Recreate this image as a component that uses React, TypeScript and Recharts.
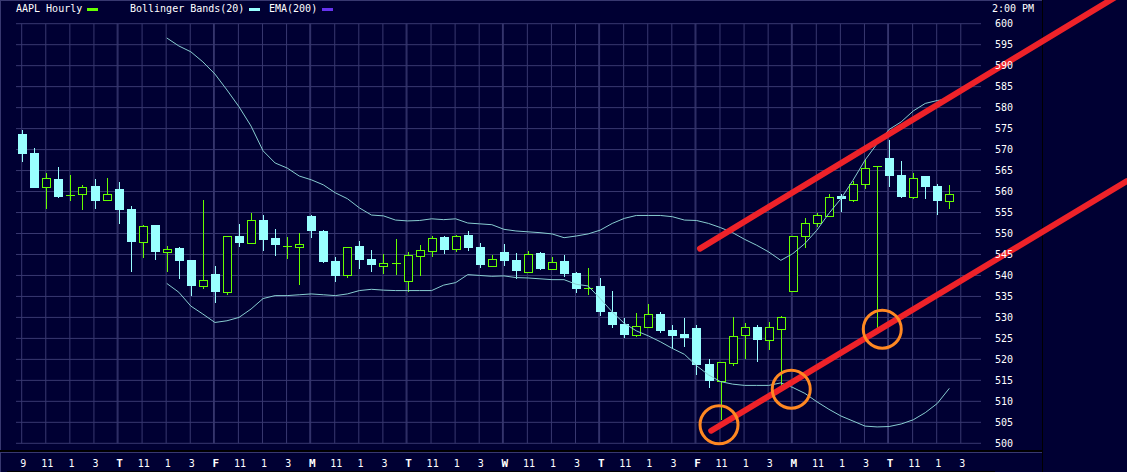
import React from "react";
import {
  ComposedChart, Bar, Line, XAxis, YAxis, CartesianGrid, ReferenceLine, ReferenceDot,
} from "recharts";

// Candle values, one entry per hourly bar
const opens = [573.7,569.2,561,563,559.1,559.3,561.3,558.1,560.6,555.8,548,552,545.6,546.5,543.7,537.5,540.3,536.1,549.4,547.8,553.2,548.9,547.1,546.8,554.1,550.6,543.4,540.2,547,543.9,542.3,542.9,538.7,544.7,545.8,549.1,546.3,549.6,546.7,542.3,545.6,543.7,540.9,545.3,541.6,543.4,540.6,536.9,537.5,531.3,528.4,525.9,527.8,530.8,527,526,527.5,518.9,514.9,519.2,525.9,527.6,524.7,527.3,536.3,549.4,552.5,554.2,558.9,558,561.7,566.2,567.9,563.9,558.7,563.7,561.3,557.8];
const closes = [569,560.9,563.2,558.7,559.1,561,557.8,559.4,555.6,547.9,551.7,545.6,546.4,543.4,537.5,539,536,549.4,547.7,553.1,548.4,547.2,547.1,547.4,550.6,543.2,539.8,546.9,543.7,542.5,542.9,542.9,544.8,546,549,546,549.5,546.5,542.5,544,543.4,541,545,541.5,543.1,540.3,536.7,536.9,531.3,528.2,525.8,527.9,530.7,526.7,525.6,525.1,518.7,514.8,519.3,525.5,527.6,524.6,527.6,530,549.3,552.6,554.3,558.8,558.2,561.9,565.7,566.2,563.7,558.7,563.3,561,557.7,559.5];
const highs = [574.7,570.4,564.4,565.8,564,561.6,563,563.3,562.3,556.5,552,552,547,546.7,543.7,558,542.2,549.4,552.2,554.8,554.4,551,549.1,550.1,554.4,550.8,544.4,546.9,548.2,546,545.1,548.7,545.5,547.2,549.4,549.4,549.6,550.6,547.7,544.8,547.5,545.3,545.8,545.6,544.4,544.8,540.8,541.7,539.4,536.3,529.8,531,533.2,531.3,528.2,529.8,528.2,520.1,519.3,530,528.6,528.2,528.9,530.3,549.3,553.6,555,559.5,559.4,562.5,567.5,566.2,572.2,567.2,564.3,563.8,561.7,561.5];
const lows = [567.1,560.9,555.9,558.5,557.8,555.6,555.9,557.8,552.3,540.8,544.1,543.7,540.8,539.1,535.1,536.7,533.4,535.3,546.7,547.5,545.8,544.6,543.9,537.7,548.9,542.9,538.4,539.4,541.5,540.8,540.3,540.1,536.1,539.8,544.4,545.1,545.6,545.8,541.7,542.3,542.2,539.1,540.6,541.3,541.3,539.6,535.8,535.3,530.3,527.5,525.1,525.3,527.8,526.3,522.5,522.9,516.3,513.2,505.6,518.5,520,519.4,522.2,513.7,536.1,546.6,551.6,554.2,555.1,557.5,560.6,527.4,561,558.4,558.2,558.2,554.4,555.8];

// Bollinger bands start at bar 12
const upperBandStart = 12;
const upperBand = [596.6,594.7,593.3,590.9,588,584.2,580.2,575.6,569.7,566.8,565.6,563.7,562.8,561.6,559.7,558.3,556.1,554.4,554.2,553.2,553,553.1,553.5,553.3,553.5,552.5,552.3,552.1,551,550.6,550.4,550.2,549.9,549,549.4,549.9,550.8,552.4,553.6,554.3,554.3,554.3,554,553.2,553.1,552.4,551.4,550.2,548.6,547.2,545.6,543.6,545.2,547.6,550.8,554.8,558.3,562.7,567.5,571.4,574.8,576.6,579.2,581,581.7,582.1];
const lowerBand = [538.1,536,532.7,530.8,528.8,529.2,530,532,534.5,535.2,535.2,535.4,535.6,535.4,535.2,535.6,536.4,536.7,536.5,536.4,536.4,536.4,536.4,537.7,538.3,540.2,540,539.8,539.9,539.5,539.4,539.2,539,539,537.9,537.5,534.5,531.3,528.6,526.8,525.6,524.2,522.6,521.2,518.5,516.3,514.7,514.1,513.8,513.8,513.8,514.4,513.3,511.9,509.9,508.1,506.5,505.3,504.1,503.9,504,504.6,505.6,507.3,509.5,513.1];

// Axis labels: one label every 2 bars
const xLabels = ["9","11","1","3","T","11","1","3","F","11","1","3","M","11","1","3","T","11","1","3","W","11","1","3","T","11","1","3","F","11","1","3","M","11","1","3","T","11","1","3"];
const xTicks = xLabels.map((_, i) => i * 2);
const yTicks = [500,505,510,515,520,525,530,535,540,545,550,555,560,565,570,575,580,585,590,595,600];
const daySeparators = [7.88,15.88,23.88,31.88,39.88,47.88,55.88,63.88,71.88];

// Trend lines and the circles drawn by hand over the chart
const lowerTrend = [{ x: 57.22, y: 503 }, { x: 91.75, y: 562.5 }];
const upperTrend = [{ x: 56.29, y: 546.4 }, { x: 91.75, y: 608 }];
const circles = [{ x: 57.87, y: 504.4 }, { x: 63.87, y: 512.9 }, { x: 71.43, y: 527.2 }];

const rows = opens.map((open, i) => ({
  i,
  open,
  close: closes[i],
  high: highs[i],
  low: lows[i],
  upper: i >= upperBandStart ? upperBand[i - upperBandStart] : null,
  lower: i >= upperBandStart ? lowerBand[i - upperBandStart] : null,
}));

const BG = "#000033";
const GRID = "#383870";
const UP = "#66FF00";
const DOWN = "#99FFFF";
const BAND = "#88CCD0";
const MONO = "'DejaVu Sans Mono', monospace";

function Candle(props: any) {
  const { x, y, width, height, payload } = props;
  const k = height / (payload.high - payload.low);
  const py = (v: number) => y + (payload.high - v) * k;
  const cx = Math.floor(x + width / 2) + 0.5;
  const isUp = payload.close >= payload.open;
  const color = isUp ? UP : DOWN;
  const top = py(Math.max(payload.open, payload.close));
  const bot = py(Math.min(payload.open, payload.close));
  const t = Math.round(top);
  const b = Math.round(bot);
  return (
    <g shapeRendering="crispEdges">
      <line x1={cx} x2={cx} y1={y} y2={y + height} stroke={color} strokeWidth={1} />
      {b - t < 1 ? (
        <line x1={cx - 4.5} x2={cx + 4.5} y1={t + 0.5} y2={t + 0.5} stroke={color} strokeWidth={1} />
      ) : isUp ? (
        <rect x={cx - 4} y={t + 0.5} width={8} height={b - t} fill={BG} stroke={color} strokeWidth={1} />
      ) : (
        <rect x={cx - 4.5} y={t} width={9} height={b - t} fill={color} />
      )}
    </g>
  );
}

function XTick(props: any) {
  const { x, payload, index } = props;
  const label = xLabels[index] ?? String(payload.value);
  const bold = /[A-Z]/.test(label);
  return (
    <text x={x + 1} y={467} textAnchor="middle" fill="#FFFFFF" fontFamily={MONO} fontSize={bold ? 11 : 10} fontWeight={bold ? 700 : 400}>
      {label}
    </text>
  );
}

function YTick(props: any) {
  const { y, payload } = props;
  return (
    <text x={995} y={y + 3.5} textAnchor="start" fill="#FFFFFF" fontFamily={MONO} fontSize={10}>
      {payload.value}
    </text>
  );
}

const strip = (left: number, top: number, width: number, height: number, background: string) => (
  <div style={{ position: "absolute", left, top, width, height, background }} />
);

const label = (left: number, text: string) => (
  <span style={{ position: "absolute", left, top: 3, fontFamily: MONO, fontSize: 10, lineHeight: "12px", color: "#FFFFFF", whiteSpace: "pre" }}>
    {text}
  </span>
);

export default function App() {
  return (
    <div style={{ position: "absolute", left: 0, top: 0, width: 1127, height: 472, background: BG, overflow: "hidden" }}>
      {strip(0, 0, 1042, 1, GRID)}
      {strip(0, 1, 1, 449, GRID)}
      {strip(0, 453, 1, 19, GRID)}
      {strip(0, 450, 1042, 2, "#000000")}
      {strip(0, 452, 1042, 1, GRID)}
      {strip(7, 471, 988, 1, "#000000")}
      {strip(1042, 0, 1, 472, "#000000")}
      {label(16, "AAPL Hourly")}
      {strip(87, 8, 11, 3, UP)}
      {label(130, "Bollinger Bands(20)")}
      {strip(249, 8, 11, 3, DOWN)}
      {label(269, "EMA(200)")}
      {strip(322, 8, 11, 3, "#6633EE")}
      {label(992, "2:00 PM")}
      <div style={{ position: "absolute", left: 0, top: 0 }}>
        <ComposedChart
          width={1127}
          height={472}
          data={rows}
          margin={{ left: 16, top: 23.7, right: 0, bottom: 0 }}
          style={{ overflow: "visible" }}
        >
          <CartesianGrid
            stroke={GRID}
            strokeWidth={1}
            horizontalValues={yTicks}
            verticalValues={[...xTicks.map((v) => v - 0.05), ...daySeparators]}
          />
          <XAxis
            type="number"
            dataKey="i"
            domain={[-0.523, 79.63]}
            ticks={xTicks}
            interval={0}
            height={28.7}
            axisLine={false}
            tickLine={false}
            tick={<XTick />}
          />
          <YAxis
            type="number"
            orientation="right"
            domain={[500, 600]}
            ticks={yTicks}
            interval={0}
            width={146}
            axisLine={false}
            tickLine={false}
            tick={<YTick />}
          />
          <Line dataKey="upper" type="linear" stroke={BAND} strokeWidth={1} dot={false} activeDot={false} isAnimationActive={false} />
          <Line dataKey="lower" type="linear" stroke={BAND} strokeWidth={1} dot={false} activeDot={false} isAnimationActive={false} />
          <Bar dataKey={(d: any) => [d.low, d.high]} barSize={9} shape={<Candle />} isAnimationActive={false} />
          <ReferenceLine segment={upperTrend} ifOverflow="visible" stroke="#EE2229" strokeWidth={6} strokeLinecap="round" />
          <ReferenceLine segment={lowerTrend} ifOverflow="visible" stroke="#EE2229" strokeWidth={6} strokeLinecap="round" />
          {circles.map((c) => (
            <ReferenceDot key={c.x} x={c.x} y={c.y} r={19} fill="none" stroke="#FF8822" strokeWidth={3} ifOverflow="visible" />
          ))}
        </ComposedChart>
      </div>
    </div>
  );
}
